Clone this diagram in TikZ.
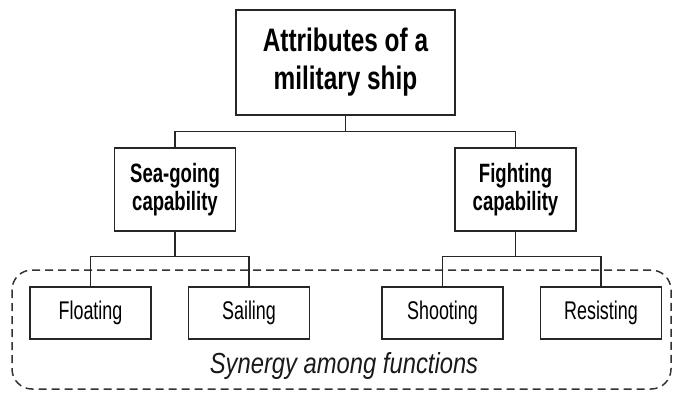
\documentclass[tikz,border=0pt]{standalone}
\usepackage{fontspec}
\setmainfont{Liberation Sans}[FakeStretch=0.70]
\newfontfamily\rootfont{Liberation Sans}[FakeStretch=0.75]
\newfontfamily\labelfont{Liberation Sans}[FakeStretch=0.82]
\begin{document}
\begin{tikzpicture}[x=1pt,y=-1pt,
  box/.style={draw=black!85,line width=1.2pt,inner sep=0pt,align=center,text=black},
  rootbox/.style={box,minimum width=219pt,minimum height=105pt,
    font=\rootfont\fontsize{32.5}{38}\selectfont\bfseries},
  midbox/.style={box,minimum width=121pt,minimum height=83pt,
    font=\fontsize{26.5}{28}\selectfont\bfseries},
  leafbox/.style={box,minimum width=121pt,minimum height=52pt,
    font=\fontsize{25.6}{28}\selectfont},
  link/.style={draw=black!85,line width=1.2pt},
  group/.style={draw=black!80,line width=1.5pt,dash pattern=on 8pt off 5pt,rounded corners=20pt},
  grouplabel/.style={font=\labelfont\fontsize{29}{34}\selectfont\itshape,text=black!90,inner sep=0pt}]
\useasboundingbox (0,0) rectangle (674,392);

% grouping frame around the four functions
\draw[group] (12,270) rectangle (671,389);
\node[grouplabel,anchor=base] (syn) at (344,373) {Synergy among functions};

% hierarchy
\node[rootbox] (root) at (345.5,62.5) {Attributes of a\\military ship};
\node[midbox] (sea) at (175,189.5) {Sea-going\\capability};
\node[midbox] (fight) at (515.5,189.5) {Fighting\\capability};
\node[leafbox] (float) at (90.5,313) {Floating};
\node[leafbox] (sail) at (249,313) {Sailing};
\node[leafbox] (shoot) at (442.5,313) {Shooting};
\node[leafbox] (resist) at (601,313) {Resisting};

% tree connectors
\draw[link] (root.south) -- ++(0,16) -| (sea.north);
\draw[link] (root.south) -- ++(0,16) -| (fight.north);
\draw[link] (sea.south) -- ++(0,25) -| (float.north);
\draw[link] (sea.south) -- ++(0,25) -| (sail.north);
\draw[link] (fight.south) -- ++(0,25) -| (shoot.north);
\draw[link] (fight.south) -- ++(0,25) -| (resist.north);
\end{tikzpicture}
\end{document}
